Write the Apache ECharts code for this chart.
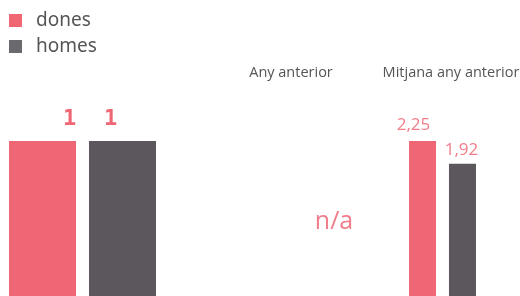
<!DOCTYPE html>
<html>
<head>
<meta charset="utf-8">
<script src="https://cdn.jsdelivr.net/npm/echarts@6/dist/echarts.min.js"></script>
<style>
  html, body { margin: 0; padding: 0; background: #fff; }
  #chart { width: 520px; height: 296px; }
</style>
</head>
<body>
<div id="chart"></div>
<script>
// dades
var sexes = ['dones', 'homes'];
var anyActual = [1, 1];
var anyAnterior = null; // n/a
var mitjanaAnyAnterior = [2.25, 1.92];
var titols = ['Any anterior', 'Mitjana any anterior'];

var rosa = '#ef6674';
var gris = '#5b575c';

var myChart = echarts.init(document.getElementById('chart'));

function fmt(v) {
    return String(v).replace('.', ',');
}

var option = {
    animation: false,
    legend: {
        data: [
            { name: sexes[0], itemStyle: { color: '#f06673' } },
            { name: sexes[1], itemStyle: { color: '#6a696e' } }
        ],
        orient: 'vertical',
        left: 9,
        top: 10,
        itemWidth: 13,
        itemHeight: 13,
        itemGap: 5,
        icon: 'rect',
        textStyle: { fontFamily: 'Noto Sans', fontSize: 19, color: '#555', padding: [0, 0, 0, 9], lineHeight: 21 },
        padding: 0
    },
    title: [
        { text: titols[0], left: 291, top: 65, textAlign: 'center', padding: 0,
          textStyle: { fontFamily: 'Open Sans', fontSize: 14.5, fontWeight: 'normal', color: '#555' } },
        { text: titols[1], left: 451, top: 65, textAlign: 'center', padding: 0,
          textStyle: { fontFamily: 'Open Sans', fontSize: 14.5, fontWeight: 'normal', color: '#555' } },
        { text: anyAnterior == null ? 'n/a' : fmt(anyAnterior), left: 334, top: 209, textAlign: 'center', padding: 0,
          textStyle: { fontFamily: 'Open Sans', fontSize: 25, fontWeight: 'normal', color: '#f27d8a' } }
    ],
    grid: [
        { left: 0, width: 165, top: 141, bottom: 0 },
        { left: 400, width: 85, top: 141, bottom: 0 }
    ],
    xAxis: [
        { type: 'category', gridIndex: 0, data: [''], show: false },
        { type: 'category', gridIndex: 1, data: [''], show: false }
    ],
    yAxis: [
        { type: 'value', gridIndex: 0, min: 0, max: Math.max.apply(null, anyActual), show: false },
        { type: 'value', gridIndex: 1, min: 0, max: Math.max.apply(null, mitjanaAnyAnterior), show: false }
    ],
    series: [
        {
            name: sexes[0], type: 'bar', xAxisIndex: 0, yAxisIndex: 0,
            data: [anyActual[0]], barWidth: 67, barGap: '19.4%',
            itemStyle: { color: rosa },
            label: { show: true, position: 'top', distance: 11, offset: [27, 0],
                     fontFamily: 'DejaVu Sans Mono', fontWeight: 'bold', fontSize: 22, color: rosa }
        },
        {
            name: sexes[1], type: 'bar', xAxisIndex: 0, yAxisIndex: 0,
            data: [anyActual[1]], barWidth: 67, barGap: '19.4%',
            itemStyle: { color: gris },
            label: { show: true, position: 'top', distance: 11, offset: [-12, 0],
                     fontFamily: 'DejaVu Sans Mono', fontWeight: 'bold', fontSize: 22, color: rosa }
        },
        {
            name: sexes[0], type: 'bar', xAxisIndex: 1, yAxisIndex: 1,
            data: [mitjanaAnyAnterior[0]], barWidth: 27, barGap: '48%',
            itemStyle: { color: rosa },
            label: { show: true, position: 'top', distance: 7, offset: [-9, 0],
                     formatter: function (p) { return fmt(p.value); },
                     fontFamily: 'Open Sans', fontSize: 17, color: '#f27d8a' }
        },
        {
            name: sexes[1], type: 'bar', xAxisIndex: 1, yAxisIndex: 1,
            data: [mitjanaAnyAnterior[1]], barWidth: 27, barGap: '48%',
            itemStyle: { color: gris },
            label: { show: true, position: 'top', distance: 5, offset: [-1, 0],
                     formatter: function (p) { return fmt(p.value); },
                     fontFamily: 'Open Sans', fontSize: 17, color: '#f27d8a' }
        }
    ]
};
myChart.setOption(option);
</script>
</body>
</html>
